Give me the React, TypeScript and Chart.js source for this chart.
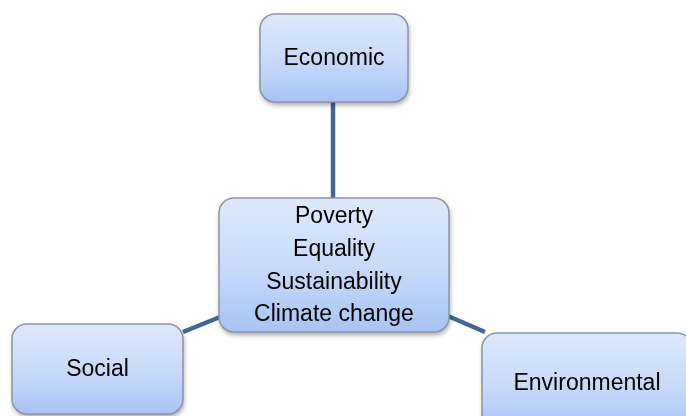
import React, { useEffect, useRef } from "react";
import { Chart, registerables } from "chart.js";

Chart.register(...registerables);

// Nodes (diagram coordinates)
const nodeLabels: string[][] = [
  ["Economic"],
  ["Poverty", "Equality", "Sustainability", "Climate change"],
  ["Social"],
  ["Environmental"],
];
const nodeLeft = [260, 219, 12, 482];
const nodeTop = [14, 198, 324, 333];
const nodeWidth = [148, 230, 171, 210];
const nodeHeight = [88, 134, 90, 100];

// Connectors
const linkX1 = [333, 183, 448];
const linkY1 = [102, 332, 316];
const linkX2 = [333, 220, 485];
const linkY2 = [198, 317, 332];

const W = 686;
const H = 416;

const boxPlugin = {
  id: "boxes",
  afterDatasetsDraw(chart: any) {
    const ctx = chart.ctx as CanvasRenderingContext2D;
    const xs = chart.scales.x;
    const ys = chart.scales.y;
    for (let i = 0; i < nodeLabels.length; i++) {
      const x0 = xs.getPixelForValue(nodeLeft[i]);
      const x1 = xs.getPixelForValue(nodeLeft[i] + nodeWidth[i]);
      const y0 = ys.getPixelForValue(nodeTop[i]);
      const y1 = ys.getPixelForValue(nodeTop[i] + nodeHeight[i]);
      const w = x1 - x0;
      const h = y1 - y0;
      const r = 15;
      ctx.save();
      const grad = ctx.createLinearGradient(0, y0, 0, y1);
      grad.addColorStop(0, "#dfe9fb");
      grad.addColorStop(0.5, "#c9dbf9");
      grad.addColorStop(1, "#a8c4f5");
      ctx.beginPath();
      (ctx as any).roundRect(x0, y0, w, h, r);
      ctx.shadowColor = "rgba(0,0,0,0.35)";
      ctx.shadowBlur = 5;
      ctx.shadowOffsetX = 1;
      ctx.shadowOffsetY = 3;
      ctx.fillStyle = grad;
      ctx.fill();
      ctx.shadowColor = "transparent";
      ctx.lineWidth = 1.5;
      ctx.strokeStyle = "#8c95a6";
      ctx.stroke();
      ctx.restore();

      ctx.save();
      ctx.fillStyle = "#000000";
      ctx.font = '23px "Liberation Sans", Arial, sans-serif';
      ctx.textAlign = "center";
      ctx.textBaseline = "middle";
      const lines = nodeLabels[i];
      const lh = 32.7;
      const cx = (x0 + x1) / 2;
      const cy = (y0 + y1) / 2;
      const start = cy - ((lines.length - 1) * lh) / 2;
      lines.forEach((t, k) => ctx.fillText(t, cx, start + k * lh + 1));
      ctx.restore();
    }
  },
};

export default function App() {
  const ref = useRef<HTMLCanvasElement>(null);
  useEffect(() => {
    if (!ref.current) return;
    const datasets = linkX1.map((_, i) => ({
      type: "line" as const,
      data: [
        { x: linkX1[i], y: linkY1[i] },
        { x: linkX2[i], y: linkY2[i] },
      ],
      borderColor: "#3f6894",
      borderWidth: 4.5,
      pointRadius: 0,
      showLine: true,
      fill: false,
      tension: 0,
    }));
    const chart = new Chart(ref.current, {
      type: "scatter",
      data: { datasets },
      options: {
        animation: false,
        responsive: false,
        devicePixelRatio: 1,
        layout: { padding: 0 },
        plugins: { legend: { display: false }, tooltip: { enabled: false } },
        scales: {
          x: { type: "linear", min: 0, max: W, display: false },
          y: { type: "linear", min: 0, max: H, reverse: true, display: false },
        },
      },
      plugins: [boxPlugin],
    });
    return () => chart.destroy();
  }, []);
  return (
    <div style={{ position: "fixed", left: 0, top: 0, width: W, height: H, background: "#ffffff" }}>
      <canvas ref={ref} width={W} height={H} style={{ display: "block" }} />
    </div>
  );
}
